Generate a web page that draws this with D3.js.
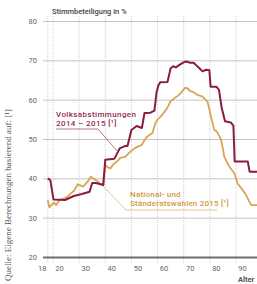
<!DOCTYPE html>
<html>
<head>
<meta charset="utf-8">
<script src="https://cdn.jsdelivr.net/npm/d3@7"></script>
<style>
  body { margin: 0; background: #fff; }
  svg { display: block; font-family: Roboto, "DejaVu Sans", sans-serif; }
</style>
</head>
<body>
<div class="chart"></div>
<script>
//data
var xTicks = [18, 20, 30, 40, 50, 60, 70, 80, 90];
var yTicks = [20, 30, 40, 50, 60, 70, 80];

var voteAges = [18, 19, 20.2, 24.6, 28, 31, 34, 35, 36.5, 39.2, 40, 43.5, 45.5, 47.5, 48.5, 50, 52, 54, 55, 57.3,
  58.8, 59.6, 60.3, 61, 63.8, 65, 66, 67, 68.5, 70, 71, 72.5, 73.8, 75, 76, 77.2, 78.5, 79.8, 80.3, 82.5,
  83.5, 84.5, 85.8, 88, 89, 89.5, 94.5, 95.2, 100];
var voteValues = [40, 39.5, 34.6, 34.5, 35.5, 36, 36.6, 38.8, 38.8, 38.3, 44.7, 45, 47.6, 48.2, 48.2, 52.3, 53.3, 52.8, 56.6, 56.7,
  57.2, 61.8, 63.6, 64.4, 64.5, 68, 68.5, 68.2, 68.9, 69.5, 69.7, 69.4, 69.4, 68.6, 68, 67.2, 67.6, 67.5, 63.3, 63.3,
  62.5, 58, 54.5, 54.2, 53.4, 44.3, 44.3, 41.7, 41.7];

var electionAges = [18, 18.6, 19.5, 20.5, 21.2, 22.5, 24, 25.5, 27, 28, 29.5, 30.5, 31.5, 32.5, 33.5, 34.5, 35.8, 37, 38, 39.3,
  40, 41, 42, 43, 44.5, 45.8, 47.7, 49.6, 51, 52.2, 54, 55, 56, 58, 59.2, 60, 61.2, 63, 64, 65,
  66.5, 67.6, 68.8, 69.5, 70.5, 71.4, 72.5, 73.5, 75.3, 77.2, 78, 79.1, 80, 80.4, 81.7, 82.5, 83, 84.2, 85, 85.5,
  87.4, 89.4, 90.6, 92.6, 93.8, 95.1, 95.8, 100];
var electionValues = [34.5, 32.6, 33.3, 33.8, 33.2, 34.5, 34.8, 35.3, 36.3, 36.8, 38.5, 38.2, 37.9, 38.6, 39.4, 40.4, 39.8, 39.3, 38.6, 38.3,
  43.4, 42.8, 42.5, 43.5, 44.3, 45.2, 45.5, 46.8, 47.5, 48, 48.5, 49.7, 50.6, 51.5, 54, 55, 55.7, 57.2, 58.3, 59.6,
  60.4, 60.9, 61.6, 62.2, 63, 62.9, 62.2, 62, 61.2, 60.8, 60.2, 59.5, 57, 55.7, 52.3, 52, 51.5, 50, 47.5, 45.5,
  43, 41.3, 38.7, 37, 35.8, 34.1, 33.2, 33.2];

//Width and height
var w = 257;
var h = 284;

var x = d3.scaleLinear().domain([20, 90]).range([53, 236]);
var y = d3.scaleLinear().domain([20, 80]).range([257, 21]);

var svg = d3.select(".chart")
            .append("svg")
            .attr("width", w)
            .attr("height", h);

// vertical dotted gridlines
svg.selectAll("line.vgrid")
    .data(xTicks)
    .enter()
    .append("line")
    .attr("class", "vgrid")
    .attr("x1", function(d) { return x(d); })
    .attr("x2", function(d) { return x(d); })
    .attr("y1", 16)
    .attr("y2", 264)
    .attr("stroke", "#cfcfcf")
    .attr("stroke-width", 1)
    .attr("stroke-dasharray", "1,1");

// y axis with horizontal gridlines
var yAxis = svg.append("g")
    .attr("transform", "translate(43,0)")
    .call(d3.axisLeft(y).tickValues(yTicks).tickSize(-(w - 43)).tickPadding(6));
yAxis.select(".domain").remove();
yAxis.selectAll(".tick line")
    .attr("stroke", function(d) { return d === 20 ? "#6e6e6e" : "#c4c4c4"; })
    .attr("stroke-width", function(d) { return d === 20 ? 2.2 : 1; });
yAxis.selectAll(".tick text")
    .attr("fill", "#666")
    .attr("font-size", "7.5px")
    .attr("font-family", "Roboto, sans-serif");

// x axis labels
var xAxis = svg.append("g")
    .attr("transform", "translate(0,262)")
    .call(d3.axisBottom(x).tickValues(xTicks).tickSize(0).tickPadding(4));
xAxis.select(".domain").remove();
xAxis.selectAll(".tick text")
    .attr("dx", function(d) { return d === 18 ? -6 : 6; })
    .attr("fill", "#666")
    .attr("font-size", "7.5px")
    .attr("font-family", "Roboto, sans-serif");

// lines
var line = d3.line()
    .x(function(d) { return x(d[0]); })
    .y(function(d) { return y(d[1]); });

var electionData = d3.zip(electionAges, electionValues);
var voteData = d3.zip(voteAges, voteValues);

svg.append("path")
    .datum(electionData)
    .attr("d", line)
    .attr("fill", "none")
    .attr("stroke", "#dba452")
    .attr("stroke-width", 1.8)
    .attr("stroke-linejoin", "round");

svg.append("path")
    .datum(voteData)
    .attr("d", line)
    .attr("fill", "none")
    .attr("stroke", "#8a1c42")
    .attr("stroke-width", 2)
    .attr("stroke-linejoin", "round");

// title
svg.append("text")
    .attr("x", 52)
    .attr("y", 14)
    .attr("font-size", "7.5px")
    .attr("font-weight", 500)
    .attr("fill", "#444")
    .text("Stimmbeteiligung in %");

// annotation: Volksabstimmungen
svg.append("text")
    .attr("x", 56)
    .attr("y", 117)
    .attr("font-size", "8px")
    .attr("font-weight", 500)
    .attr("letter-spacing", "0.4px")
    .attr("fill", "#9a2a52")
    .text("Volksabstimmungen");
svg.append("text")
    .attr("x", 56)
    .attr("y", 126)
    .attr("font-size", "8px")
    .attr("font-weight", 500)
    .attr("letter-spacing", "0.4px")
    .attr("fill", "#9a2a52")
    .text("2014 – 2015 [¹]");
svg.append("polyline")
    .attr("points", [[56, 129], [98, 129], [118, 152]].join(" "))
    .attr("fill", "none")
    .attr("stroke", "#9a5a72")
    .attr("stroke-width", 0.8);

// annotation: National- und Ständeratswahlen
svg.append("text")
    .attr("x", 130)
    .attr("y", 197)
    .attr("font-size", "8px")
    .attr("font-weight", 500)
    .attr("letter-spacing", "0.2px")
    .attr("fill", "#cf9a3e")
    .text("National- und");
svg.append("text")
    .attr("x", 130)
    .attr("y", 206)
    .attr("font-size", "8px")
    .attr("font-weight", 500)
    .attr("letter-spacing", "0.2px")
    .attr("fill", "#cf9a3e")
    .text("Ständeratswahlen 2015 [¹]");
svg.append("polyline")
    .attr("points", [[217, 210], [126, 210], [103, 186]].join(" "))
    .attr("fill", "none")
    .attr("stroke", "#d8b878")
    .attr("stroke-width", 0.8);

// Alter
svg.append("text")
    .attr("x", 238)
    .attr("y", 282)
    .attr("font-size", "7.5px")
    .attr("font-weight", "bold")
    .attr("fill", "#555")
    .text("Alter");

// source, rotated
svg.append("text")
    .attr("transform", "translate(11,281) rotate(-90)")
    .attr("font-family", "'Liberation Serif', 'DejaVu Serif', serif")
    .attr("font-size", "9px")
    .attr("fill", "#555")
    .text("Quelle: Eigene Berechnungen basierend auf: [¹]");
</script>
</body>
</html>
